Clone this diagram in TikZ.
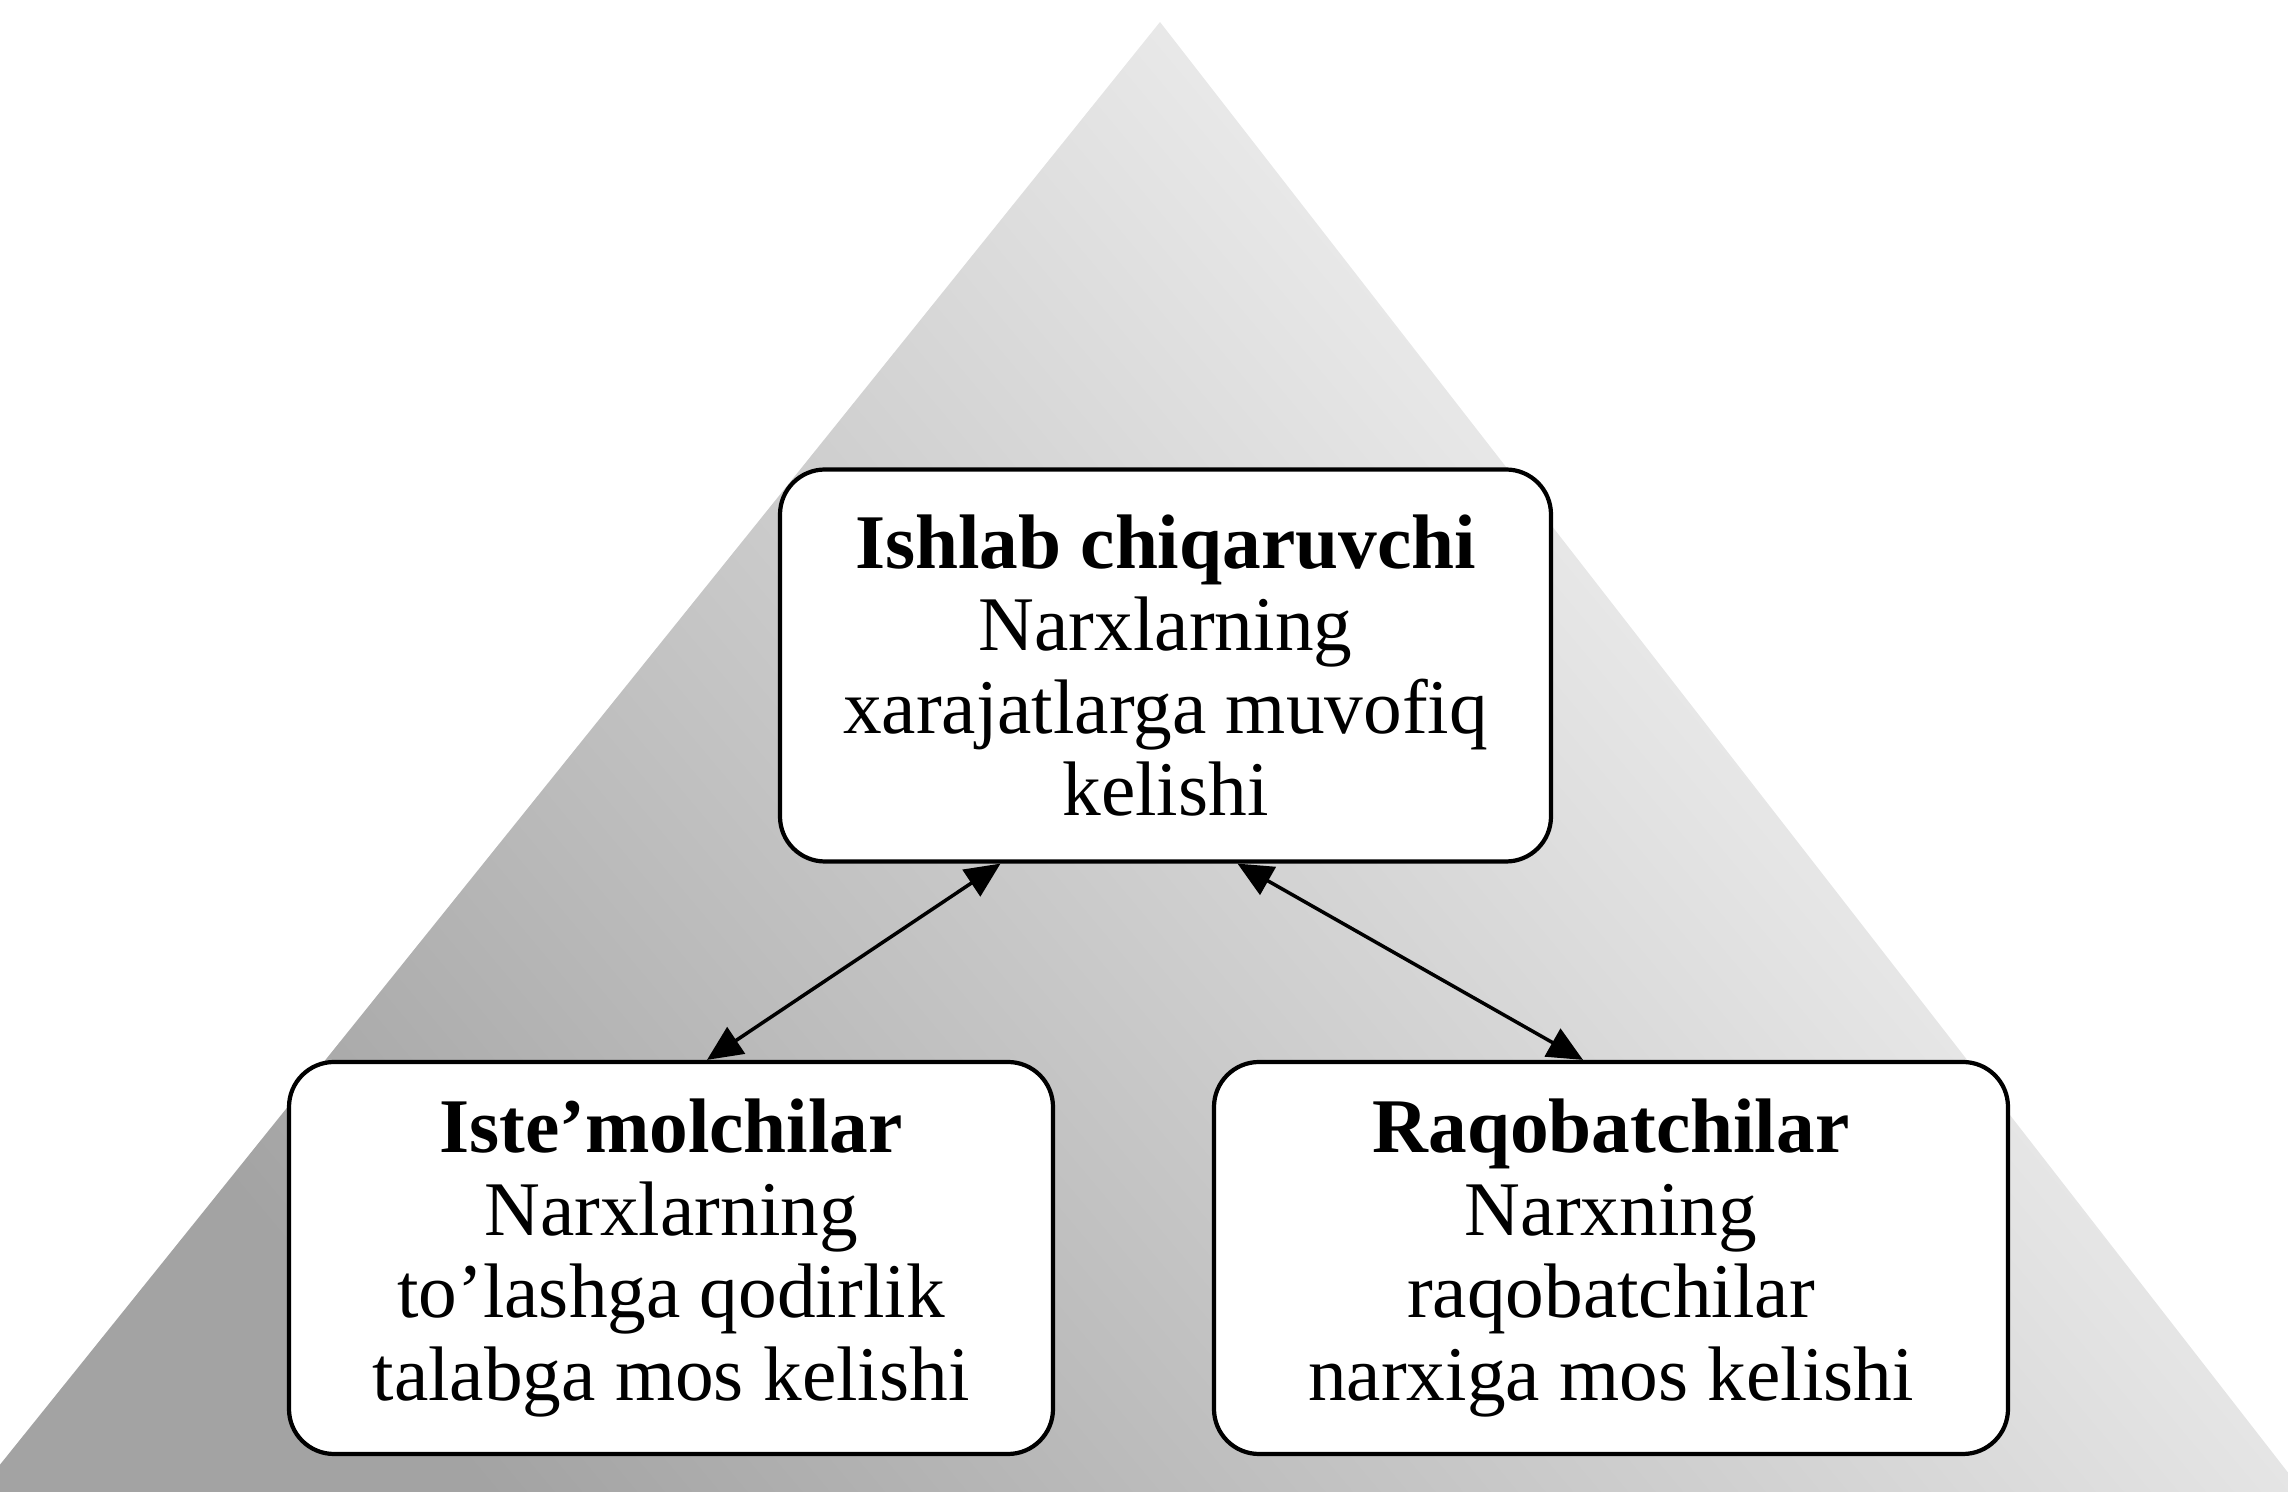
\documentclass[tikz,border=0pt]{standalone}
\usepackage{fontspec}
\setmainfont{Liberation Serif}
\usepackage{tikz}
\usetikzlibrary{calc,arrows.meta}

\begin{document}
\begin{tikzpicture}[
    box/.style={draw,very thick,fill=white,rounded corners=0.45cm,align=center,
        minimum height=3.92cm,font=\fontsize{22}{23.5}\selectfont},
    arr/.style={line width=1pt,<->,>={Triangle[length=10pt,width=9pt]}}]
       \useasboundingbox(0,0)rectangle(22.88,14.92);%枠
       \clip(0,0)rectangle(22.88,14.92);

       \coordinate(A)at(11.60,14.70);%頂点
       \coordinate(B)at(-0.26,-0.05);%左下
       \coordinate(C)at(23.07,-0.05);%右下
       \shade[top color=black!36,bottom color=white,shading angle=130]
           (A)--(B)--(C)--cycle;%三角形

       \node[box,minimum width=7.71cm](IC)at(11.655,8.265)
           {\textbf{Ishlab chiqaruvchi}\\Narxlarning\\xarajatlarga muvofiq\\kelishi};
       \node[box,minimum width=7.64cm](IS)at(6.71,2.34)
           {\textbf{Iste'molchilar}\\Narxlarning\\to'lashga qodirlik\\talabga mos kelishi};
       \node[box,minimum width=7.94cm](RQ)at(16.11,2.34)
           {\textbf{Raqobatchilar}\\Narxning\\raqobatchilar\\narxiga mos kelishi};

       \draw[arr]($(IC.south)+(-1.65,0)$)--($(IS.north)+(0.36,0)$);%左の矢印
       \draw[arr]($(IC.south)+(0.72,0)$)--($(RQ.north)+(-0.28,0)$);%右の矢印

\end{tikzpicture}
\end{document}
